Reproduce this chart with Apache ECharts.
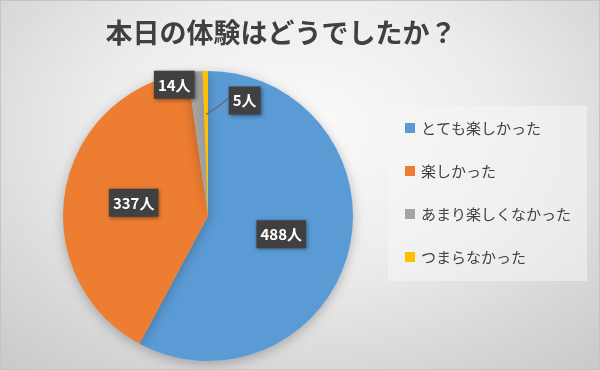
<!DOCTYPE html>
<html><head><meta charset="utf-8">
<script src="https://cdn.jsdelivr.net/npm/echarts@6/dist/echarts.min.js"></script>
<style>
html,body{margin:0;padding:0;}
#c{width:600px;height:370px;box-sizing:border-box;border:1px solid #c4c4c4;
background:radial-gradient(ellipse 75% 85% at 50% 35%, #fbfbfb 0%, #ececec 45%, #d6d6d6 80%, #cacaca 100%);}
</style></head>
<body><div id="c"></div>
<script>
const titleText = '本日の体験はどうでしたか？';
const categories = ['とても楽しかった', '楽しかった', 'あまり楽しくなかった', 'つまらなかった'];
const values = [488, 337, 14, 5];
const unit = '人';
const colors = ['#5B9BD5', '#ED7D31', '#A5A5A5', '#FFC000'];

const font = '"Noto Sans CJK JP", "Noto Sans", sans-serif';
const chart = echarts.init(document.getElementById('c'), null, {renderer: 'canvas'});

const labelBox = {
  show: true,
  formatter: p => p.value + unit,
  color: '#ffffff',
  fontWeight: 'bold',
  fontSize: 15,
  fontFamily: font,
  backgroundColor: '#404040',
  padding: [7, 4, 6, 4],
  shadowBlur: 4,
  shadowColor: 'rgba(0,0,0,0.45)',
  shadowOffsetX: 1,
  shadowOffsetY: 1
};

const data = categories.map((name, i) => {
  const item = { name: name, value: values[i], itemStyle: { color: colors[i] } };
  if (i === 2) {
    item.label = Object.assign({}, labelBox, { position: 'inside', offset: [-27, -56] });
  } else if (i === 3) {
    item.label = Object.assign({}, labelBox, { position: 'inside', offset: [38, -40] });
  } else {
    item.label = Object.assign({}, labelBox, { position: 'inside' });
  }
  return item;
});

chart.setOption({
  backgroundColor: 'transparent',
  animation: false,
  title: {
    text: titleText,
    left: 275,
    textAlign: 'center',
    top: 13,
    textStyle: { fontSize: 27, fontWeight: 'bold', color: '#404040', fontFamily: font }
  },
  legend: {
    orient: 'vertical',
    left: 387,
    top: 105,
    padding: [14, 16, 16, 17],
    backgroundColor: 'rgba(245,245,245,0.55)',
    icon: 'rect',
    itemWidth: 10,
    itemHeight: 10,
    itemGap: 27,
    itemStyle: { borderWidth: 0 },
    data: categories,
    textStyle: { fontSize: 15, color: '#404040', fontFamily: font, lineHeight: 16, padding: [0, 0, 0, 1] }
  },
  series: [{
    type: 'pie',
    center: [207, 215],
    radius: 145,
    startAngle: 90,
    clockwise: true,
    avoidLabelOverlap: false,
    label: labelBox,
    labelLine: { show: false },
    itemStyle: {
      shadowBlur: 12,
      shadowColor: 'rgba(0,0,0,0.25)',
      shadowOffsetY: 3
    },
    emphasis: { disabled: true },
    data: data
  }]
});

// leader line for the smallest slice, anchored on the library's own sector layout
const lay = chart.getModel().getSeriesByIndex(0).getData().getItemLayout(3);
if (lay) {
  const mid = (lay.startAngle + lay.endAngle) / 2;
  const sx = lay.cx + lay.r * 0.7 * Math.cos(mid);
  const sy = lay.cy + lay.r * 0.7 * Math.sin(mid);
  chart.setOption({
    graphic: {
      elements: [{
        type: 'polyline',
        z: 100,
        zlevel: 0,
        silent: true,
        shape: { points: [[sx, sy], [sx + 12, sy - 8], [sx + 22, sy - 16]] },
        style: { stroke: '#666666', lineWidth: 1.2, fill: 'none' }
      }]
    }
  });
}
</script>
</body></html>
